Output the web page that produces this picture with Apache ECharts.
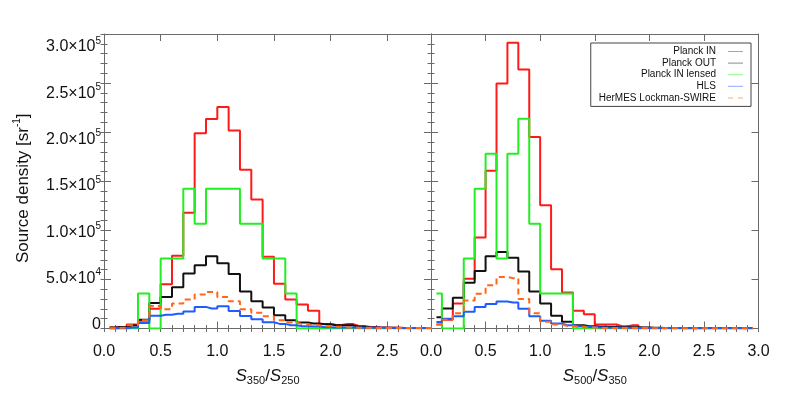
<!DOCTYPE html>
<html>
<head>
<meta charset="utf-8">
<script src="https://cdn.jsdelivr.net/npm/echarts@6/dist/echarts.min.js"></script>
<style>
  html, body { margin: 0; padding: 0; background: #fff; }
  #main { width: 789px; height: 395px; }
</style>
</head>
<body>
<div id="main"></div>
<script>
// bin centres (histogram drawn as IDL psym=10 steps)
const binCenters = [0.05, 0.15, 0.25, 0.35, 0.45, 0.55, 0.65, 0.75, 0.85, 0.95,
  1.05, 1.15, 1.25, 1.35, 1.45, 1.55, 1.65, 1.75, 1.85, 1.95,
  2.05, 2.15, 2.25, 2.35, 2.45, 2.55, 2.65, 2.75, 2.85, 2.95]

const seriesNames = ['Planck IN', 'Planck OUT', 'Planck IN lensed', 'HLS', 'HerMES Lockman-SWIRE']
const seriesColors = ['#ff1a1a', '#111111', '#22ee22', '#1f5cff', '#ff6619']
const legendColors = ['#ff8080', '#8a8a8a', '#90f890', '#8aaaff', '#ffaa80']

// left panel: S350/S250
const redLeft = [1000, 1500, 4000, 8000, 20000, 45000, 74000, 118000, 199000, 213500,
  225700, 201700, 161600, 131400, 73000, 45500, 29500, 24500, 18000, 4500,
  3500, 4500, 2500, 1500, 1000, 800, 600, 500, 500, 500]
const blackLeft = [1000, 1500, 3000, 9000, 26000, 32000, 42000, 56000, 64500, 73700,
  66500, 55500, 37800, 27800, 21400, 13500, 8400, 6000, 5000, 4400,
  3400, 3200, 1700, 1000, 800, 700, 600, 500, 400, 400]
const greenLeft = [0, 0, 0, 35600, 0, 71200, 71200, 142400, 106800, 142400,
  142400, 142400, 106800, 106800, 71200, 71200, 35600, 0, 0, 0,
  0, 0, 0, 0, 0, 0, 0, 0, 0, 0]
const blueLeft = [0, 300, 1000, 5500, 13000, 14000, 15000, 17200, 22000, 20400,
  22600, 17800, 12800, 9400, 6300, 4700, 3400, 2400, 2000, 1300,
  1000, 1000, 800, 800, 700, 600, 500, 500, 500, 500]
const orangeLeft = [300, 700, 3400, 8500, 23000, 19600, 25500, 29500, 34600, 37300,
  32200, 27800, 19700, 16000, 12600, 8500, 6200, 4400, 3400, 2400,
  1700, 1000, 800, 600, 500, 500, 400, 400, 400, 400]

// right panel: S500/S350
const redRight = [4000, 9000, 25400, 50800, 92600, 160600, 249600, 291000, 263800, 195000,
  125600, 60400, 36600, 18000, 14600, 4000, 4000, 2400, 3400, 800,
  600, 500, 500, 500, 400, 400, 400, 400, 400, 400]
const blackRight = [11500, 20300, 31200, 46500, 58500, 73600, 78000, 72000, 58000, 37700,
  25400, 13000, 7000, 3400, 2400, 1700, 1500, 1400, 1300, 1000,
  800, 600, 500, 500, 400, 400, 400, 400, 400, 400]
const greenRight = [35600, 0, 0, 71200, 142400, 178000, 71200, 178000, 213600, 106800,
  35600, 35600, 35600, 0, 0, 0, 0, 0, 0, 0,
  0, 0, 0, 0, 0, 0, 0, 0, 0, 0]
const blueRight = [6500, 10000, 12500, 17000, 22000, 25000, 27500, 26500, 20000, 12500,
  8000, 5000, 3300, 2300, 1500, 1000, 800, 700, 600, 500,
  500, 400, 400, 300, 300, 300, 300, 300, 300, 300]
const orangeRight = [4000, 9000, 15600, 28500, 35300, 44000, 52500, 51300, 30000, 15600,
  7000, 4000, 2500, 1500, 1000, 600, 500, 500, 400, 400,
  300, 300, 300, 300, 300, 300, 300, 300, 300, 300]

const xLabelsLeft = [0, 0.5, 1.0, 1.5, 2.0, 2.5]
const xLabelsRight = [0, 0.5, 1.0, 1.5, 2.0, 2.5, 3.0]
const yLabels = [0, 50000, 100000, 150000, 200000, 250000, 300000]

const leftMax = 2.886
const frameColor = '#6a6a6a'
const font = 'Liberation Sans'

function steps(from, to, step) {
  const out = []
  for (let v = from; v <= to + 1e-9; v += step) out.push(Math.round(v * 1e6) / 1e6)
  return out
}

const xMinor = steps(0, 3, 0.1)
const yMinor = steps(0, 300000, 10000)

const subRich = {
  i: { fontFamily: font, fontSize: 17, fontStyle: 'italic', color: '#111', lineHeight: 20 },
  t: { fontFamily: font, fontSize: 17, color: '#111', lineHeight: 20 },
  sub: { fontFamily: font, fontSize: 11, color: '#111', lineHeight: 12, verticalAlign: 'bottom' }
}

function tick(len, vals) {
  return { show: true, inside: true, length: len, customValues: vals, lineStyle: { color: frameColor } }
}

function xAxesFor(grid, max, labels, name) {
  const minors = xMinor.filter(v => v <= max)
  const base = { type: 'value', gridIndex: grid, min: 0, max: max, splitLine: { show: false } }
  return [
    Object.assign({}, base, {
      position: 'bottom',
      axisLine: { onZero: false, lineStyle: { color: frameColor, width: 1 } },
      axisTick: tick(7, labels),
      axisLabel: {
        customValues: labels, formatter: v => v.toFixed(1), margin: 15,
        fontSize: 16, color: '#111', fontFamily: font
      },
      name: name, nameLocation: 'middle', nameGap: 38,
      nameTextStyle: { rich: subRich }
    }),
    Object.assign({}, base, { position: 'bottom', axisLine: { show: false }, axisTick: tick(3.5, minors), axisLabel: { show: false } }),
    Object.assign({}, base, {
      position: 'top',
      axisLine: { onZero: false, lineStyle: { color: frameColor, width: 1 } },
      axisTick: tick(7, labels), axisLabel: { show: false }
    }),
    Object.assign({}, base, { position: 'top', axisLine: { show: false }, axisTick: tick(3.5, minors), axisLabel: { show: false } })
  ]
}

function yAxesFor(grid) {
  const base = { type: 'value', gridIndex: grid, min: 0, max: 300000, splitLine: { show: false } }
  return [
    Object.assign({}, base, {
      position: 'left',
      axisLine: { show: true, onZero: false, lineStyle: { color: frameColor, width: 1 } },
      axisTick: tick(7, yLabels),
      axisLabel: { show: false }
    }),
    Object.assign({}, base, { position: 'left', axisLine: { show: false }, axisTick: tick(3.5, yMinor), axisLabel: { show: false } }),
    Object.assign({}, base, {
      position: 'right',
      axisLine: { show: true, onZero: false, lineStyle: { color: frameColor, width: 1 } },
      axisTick: tick(7, yLabels), axisLabel: { show: false }
    }),
    Object.assign({}, base, { position: 'right', axisLine: { show: false }, axisTick: tick(3.5, yMinor), axisLabel: { show: false } })
  ]
}

// label-only axis: the reference prints its y labels slightly compressed
const yLabelAxis = {
  type: 'value', gridIndex: 0, position: 'left', min: -3777, max: 314029,
  splitLine: { show: false }, axisLine: { show: false }, axisTick: { show: false },
  axisLabel: {
    show: true, customValues: yLabels, margin: 3,
    formatter: v => {
      if (v === 0) return '{b|0}'
      const e = Math.floor(Math.log10(v))
      const m = (v / Math.pow(10, e)).toFixed(1)
      return '{b|' + m + '×10}{s|' + e + '}'
    },
    rich: {
      b: { fontFamily: font, fontSize: 16, color: '#111', lineHeight: 22 },
      s: { fontFamily: font, fontSize: 10, color: '#111', lineHeight: 14, verticalAlign: 'top' }
    }
  },
  name: '{t|Source density [sr}{s|-1}{t|]}',
  nameLocation: 'middle',
  nameGap: 70,
  nameTextStyle: {
    padding: [0, 14, 0, 0],
    rich: {
      t: { fontFamily: font, fontSize: 17, color: '#111', lineHeight: 22 },
      s: { fontFamily: font, fontSize: 10, color: '#111', lineHeight: 14, verticalAlign: 'top' }
    }
  }
}

function histSeries(values, idx, axisIndex) {
  return {
    name: seriesNames[idx],
    type: 'line',
    step: 'middle',
    xAxisIndex: axisIndex,
    yAxisIndex: axisIndex,
    symbol: 'none',
    clip: true,
    color: seriesColors[idx],
    itemStyle: { color: seriesColors[idx] },
    lineStyle: {
      width: 2,
      color: seriesColors[idx],
      type: idx === 4 ? [6, 4] : 'solid'
    },
    data: binCenters.map((x, i) => [x, values[i]])
  }
}

const solidIcon = 'path://M0,0H15V1H0Z'
const dashIcon = 'path://M0,0H5V1H0Z M10,0H15V1H10Z'

const myChart = echarts.init(document.getElementById('main'), null, { renderer: 'canvas' })
const option = {
  animation: false,
  backgroundColor: '#fff',
  grid: [
    { left: 104, top: 34, width: 327, height: 294.5 },
    { left: 431, top: 34, width: 327.5, height: 294.5 }
  ],
  legend: {
    data: seriesNames.map((n, i) => ({
      name: n,
      icon: i === 4 ? dashIcon : solidIcon,
      itemStyle: { color: legendColors[i], borderWidth: 0 }
    })),
    orient: 'vertical',
    align: 'right',
    right: 38,
    top: 43,
    itemWidth: 15,
    itemHeight: 1.2,
    itemGap: 0.6,
    padding: [3, 8, 3, 8],
    borderColor: '#444',
    borderWidth: 1,
    backgroundColor: '#fff',
    textStyle: { fontSize: 10, fontFamily: font, color: '#111', lineHeight: 11, padding: [0, 7, 0, 0] }
  },
  xAxis: [].concat(
    xAxesFor(0, leftMax, xLabelsLeft, '{i|S}{sub|350}{t|/}{i|S}{sub|250}'),
    xAxesFor(1, 3, xLabelsRight, '{i|S}{sub|500}{t|/}{i|S}{sub|350}')
  ),
  yAxis: [].concat(yAxesFor(0), yAxesFor(1), [yLabelAxis]),
  series: [
    histSeries(redLeft, 0, 0),
    histSeries(blackLeft, 1, 0),
    histSeries(greenLeft, 2, 0),
    histSeries(blueLeft, 3, 0),
    histSeries(orangeLeft, 4, 0),
    histSeries(redRight, 0, 4),
    histSeries(blackRight, 1, 4),
    histSeries(greenRight, 2, 4),
    histSeries(blueRight, 3, 4),
    histSeries(orangeRight, 4, 4)
  ]
}
myChart.setOption(option)
</script>
</body>
</html>
